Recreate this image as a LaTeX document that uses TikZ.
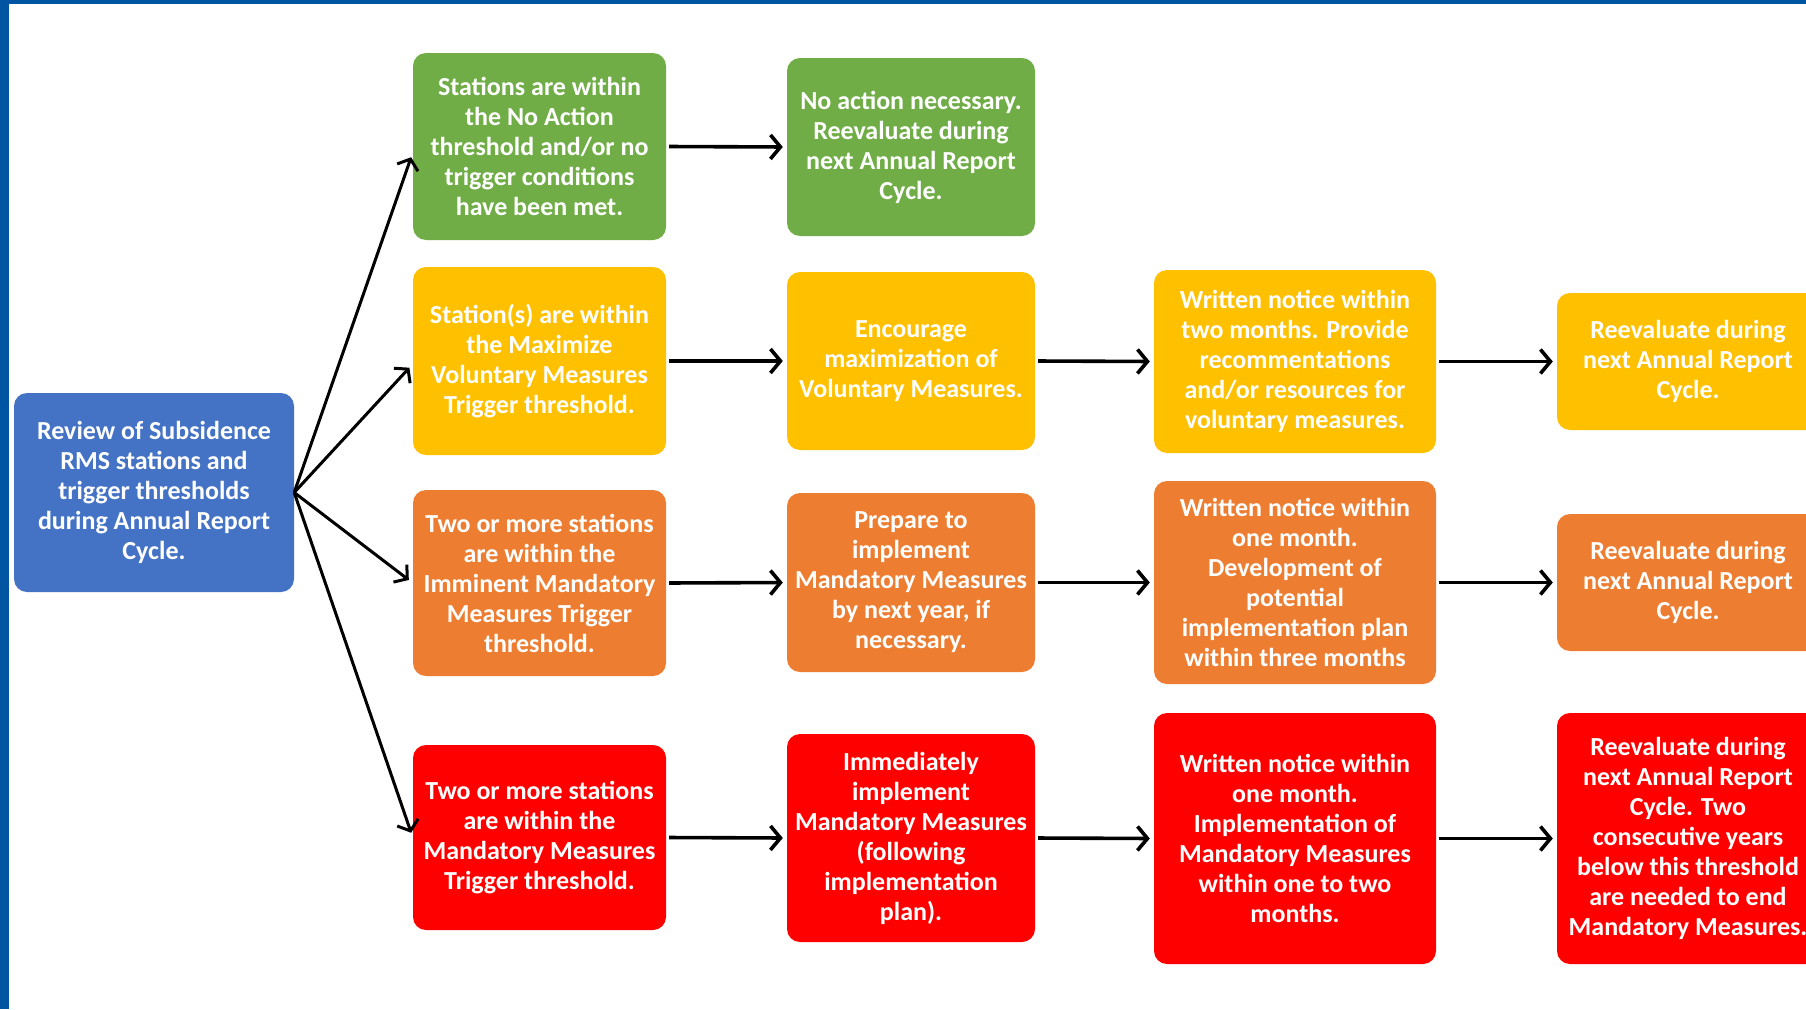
\documentclass[tikz,border=0pt]{standalone}
\usepackage{fontspec}
\setmainfont{Carlito}
\usetikzlibrary{arrows.meta}
\definecolor{cgreen}{HTML}{70AD47}
\definecolor{cyellow}{HTML}{FFC000}
\definecolor{corange}{HTML}{ED7D31}
\definecolor{cred}{HTML}{FF0000}
\definecolor{cblue}{HTML}{4472C4}
\definecolor{cframe}{HTML}{0055A2}
\begin{document}
\begin{tikzpicture}[x=1pt,y=-1pt,
  box/.style={rounded corners=13pt, text=white, align=center,
    font=\fontsize{26}{30}\selectfont\bfseries, inner sep=0pt},
  gbox/.style={box, fill=cgreen},
  ybox/.style={box, fill=cyellow},
  obox/.style={box, fill=corange},
  rbox/.style={box, fill=cred},
  bbox/.style={box, fill=cblue},
  colb/.style={minimum width=253pt},
  colc/.style={minimum width=248pt},
  cold/.style={minimum width=282pt},
  cole/.style={minimum width=262pt},
  harr/.style={draw=black, line width=3.6pt, -{Straight Barb[length=10pt,width=24pt]}, shorten >=4pt, shorten <=3pt},
  darr/.style={draw=black, line width=3pt, -{Straight Barb[length=9pt,width=22pt]}, shorten >=5pt}
]
\path[use as bounding box] (0,0) rectangle (1806,1009);
\fill[white] (0,0) rectangle (1806,1009);
\fill[cframe] (0,0) rectangle (1806,4);
\fill[cframe] (0,0) rectangle (9,1009);

% source
\node[bbox, minimum width=280pt, minimum height=199pt] (src) at (154,492.5)
  {Review of Subsidence\\RMS stations and\\trigger thresholds\\during Annual Report\\Cycle.};

% green row
\node[gbox, colb, minimum height=187pt] (g2) at (539.5,146.5)
  {Stations are within\\the No Action\\threshold and/or no\\trigger conditions\\have been met.};
\node[gbox, colc, minimum height=178pt] (g3) at (911,147)
  {No action necessary.\\Reevaluate during\\next Annual Report\\Cycle.};

% yellow row
\node[ybox, colb, minimum height=188pt] (y2) at (539.5,361)
  {Station(s) are within\\the Maximize\\Voluntary Measures\\Trigger threshold.};
\node[ybox, colc, minimum height=178pt] (y3) at (911,361)
  {Encourage\\maximization of\\Voluntary Measures.};
\node[ybox, cold, minimum height=183pt] (y4) at (1295,361.5)
  {Written notice within\\two months. Provide\\recommentations\\and/or resources for\\voluntary measures.};
\node[ybox, cole, minimum height=137pt] (y5) at (1688,361.5)
  {Reevaluate during\\next Annual Report\\Cycle.};

% orange row
\node[obox, colb, minimum height=186pt] (o2) at (539.5,583)
  {Two or more stations\\are within the\\Imminent Mandatory\\Measures Trigger\\threshold.};
\node[obox, colc, minimum height=179pt] (o3) at (911,582.5)
  {Prepare to\\implement\\Mandatory Measures\\by next year, if\\necessary.};
\node[obox, cold, minimum height=203pt] (o4) at (1295,582.5)
  {Written notice within\\one month.\\Development of\\potential\\implementation plan\\within three months};
\node[obox, cole, minimum height=137pt] (o5) at (1688,582.5)
  {Reevaluate during\\next Annual Report\\Cycle.};

% red row
\node[rbox, colb, minimum height=185pt] (r2) at (539.5,837.5)
  {Two or more stations\\are within the\\Mandatory Measures\\Trigger threshold.};
\node[rbox, colc, minimum height=208pt] (r3) at (911,838)
  {Immediately\\implement\\Mandatory Measures\\(following\\implementation\\plan).};
\node[rbox, cold, minimum height=251pt] (r4) at (1295,838.5)
  {Written notice within\\one month.\\Implementation of\\Mandatory Measures\\within one to two\\months.};
\node[rbox, cole, minimum height=251pt] (r5) at (1688,838.5)
  {Reevaluate during\\next Annual Report\\Cycle. Two\\consecutive years\\below this threshold\\are needed to end\\Mandatory Measures.};

% diagonal arrows
\draw[darr] (src.east) -- ([yshift=-6pt]g2.west);
\draw[darr] (src.east) -- ([yshift=-3pt]y2.west);
\draw[darr] (src.east) -- (o2.west);
\draw[darr] (src.east) -- (r2.west);

% horizontal arrows
\draw[harr] (g2.east) -- (g3.west);
\draw[harr] (y2.east) -- (y3.west);
\draw[harr] (y3.east) -- (y4.west);
\draw[harr] (y4.east) -- (y5.west);
\draw[harr] (o2.east) -- (o3.west);
\draw[harr] (o3.east) -- (o4.west);
\draw[harr] (o4.east) -- (o5.west);
\draw[harr] (r2.east) -- (r3.west);
\draw[harr] (r3.east) -- (r4.west);
\draw[harr] (r4.east) -- (r5.west);
\end{tikzpicture}
\end{document}
